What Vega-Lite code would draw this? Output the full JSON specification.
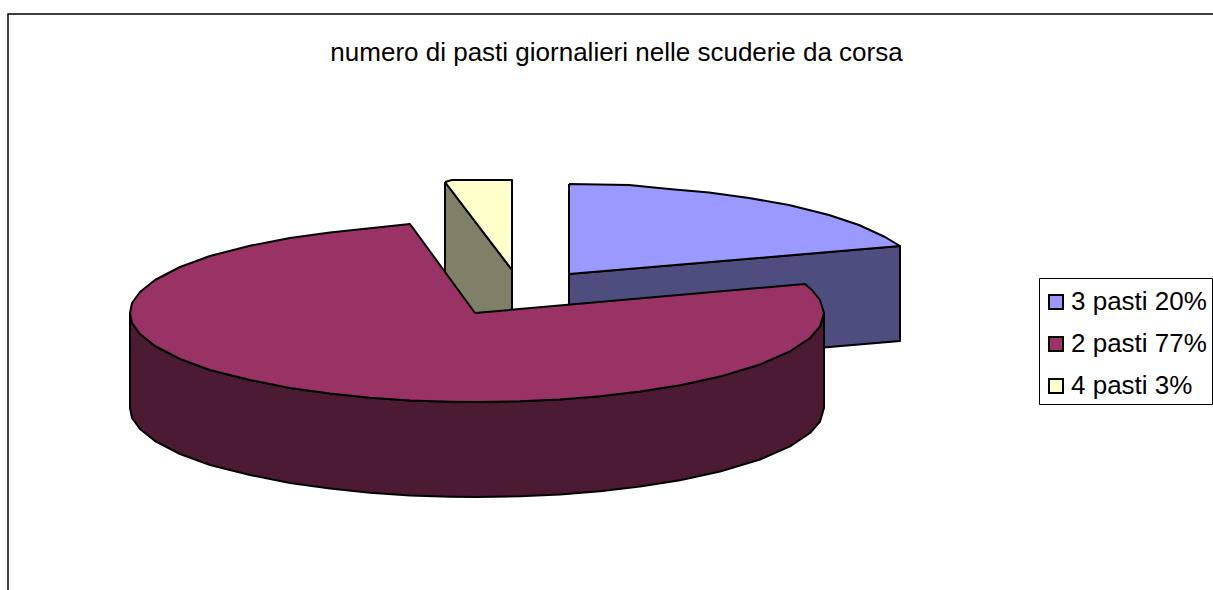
{
"$schema":"https://vega.github.io/schema/vega-lite/v6.json",
"width":1205,"height":576,
"autosize":"none",
"padding":{"left":8,"top":14,"right":0,"bottom":0},
"background":"white",
"view":{"stroke":null},
"title":{"text":"numero di pasti giornalieri nelle scuderie da corsa","font":"Liberation Sans","fontSize":26,"fontWeight":"normal","color":"black","anchor":"middle","frame":"group","offset":-55,"dx":6},
"data":{"values":[
{"part":"frame","seq":1,"x":8,"y":590},{"part":"frame","seq":2,"x":8,"y":14},{"part":"frame","seq":3,"x":1213,"y":14},
{"part":"blue_side","seq":1,"x":569,"y":274},{"part":"blue_side","seq":2,"x":900,"y":246},{"part":"blue_side","seq":3,"x":900,"y":341},{"part":"blue_side","seq":4,"x":569,"y":369},{"part":"blue_side","seq":5,"x":569,"y":274},
{"part":"olive_side","seq":1,"x":445,"y":182},{"part":"olive_side","seq":2,"x":512,"y":270},{"part":"olive_side","seq":3,"x":512,"y":365},{"part":"olive_side","seq":4,"x":445,"y":277},{"part":"olive_side","seq":5,"x":445,"y":182},
{"part":"top_small","slice":"3 pasti 20%","seq":1,"x":569,"y":184},{"part":"top_small","slice":"3 pasti 20%","seq":2,"x":629,"y":185},{"part":"top_small","slice":"3 pasti 20%","seq":3,"x":669,"y":189},{"part":"top_small","slice":"3 pasti 20%","seq":4,"x":709,"y":192.6},{"part":"top_small","slice":"3 pasti 20%","seq":5,"x":749,"y":198},{"part":"top_small","slice":"3 pasti 20%","seq":6,"x":789,"y":205},{"part":"top_small","slice":"3 pasti 20%","seq":7,"x":829,"y":215},{"part":"top_small","slice":"3 pasti 20%","seq":8,"x":859,"y":225},{"part":"top_small","slice":"3 pasti 20%","seq":9,"x":885,"y":237},{"part":"top_small","slice":"3 pasti 20%","seq":10,"x":900,"y":246},{"part":"top_small","slice":"3 pasti 20%","seq":11,"x":569,"y":274},{"part":"top_small","slice":"3 pasti 20%","seq":12,"x":569,"y":184},
{"part":"top_small","slice":"4 pasti 3%","seq":1,"x":445,"y":182},{"part":"top_small","slice":"4 pasti 3%","seq":2,"x":452,"y":180},{"part":"top_small","slice":"4 pasti 3%","seq":3,"x":512,"y":180},{"part":"top_small","slice":"4 pasti 3%","seq":4,"x":512,"y":270},{"part":"top_small","slice":"4 pasti 3%","seq":5,"x":445,"y":182},
{"part":"maroon_side","seq":1,"x":130,"y":313},{"part":"maroon_side","seq":2,"x":132,"y":323},{"part":"maroon_side","seq":3,"x":140,"y":334},{"part":"maroon_side","seq":4,"x":155,"y":346},{"part":"maroon_side","seq":5,"x":180,"y":359},{"part":"maroon_side","seq":6,"x":210,"y":370},{"part":"maroon_side","seq":7,"x":250,"y":380},{"part":"maroon_side","seq":8,"x":290,"y":388},{"part":"maroon_side","seq":9,"x":330,"y":393.6},{"part":"maroon_side","seq":10,"x":370,"y":397.7},{"part":"maroon_side","seq":11,"x":410,"y":400.4},{"part":"maroon_side","seq":12,"x":450,"y":401.7},{"part":"maroon_side","seq":13,"x":477,"y":402},{"part":"maroon_side","seq":14,"x":520,"y":401.3},{"part":"maroon_side","seq":15,"x":560,"y":399.4},{"part":"maroon_side","seq":16,"x":600,"y":396.2},{"part":"maroon_side","seq":17,"x":640,"y":391.6},{"part":"maroon_side","seq":18,"x":680,"y":385.2},{"part":"maroon_side","seq":19,"x":720,"y":376.6},{"part":"maroon_side","seq":20,"x":760,"y":364.5},{"part":"maroon_side","seq":21,"x":790,"y":351.4},{"part":"maroon_side","seq":22,"x":810,"y":338},{"part":"maroon_side","seq":23,"x":820,"y":326.5},{"part":"maroon_side","seq":24,"x":824,"y":313},
{"part":"maroon_side","seq":25,"x":824,"y":408},{"part":"maroon_side","seq":26,"x":820,"y":421.5},{"part":"maroon_side","seq":27,"x":810,"y":433},{"part":"maroon_side","seq":28,"x":790,"y":446.4},{"part":"maroon_side","seq":29,"x":760,"y":459.5},{"part":"maroon_side","seq":30,"x":720,"y":471.6},{"part":"maroon_side","seq":31,"x":680,"y":480.2},{"part":"maroon_side","seq":32,"x":640,"y":486.6},{"part":"maroon_side","seq":33,"x":600,"y":491.2},{"part":"maroon_side","seq":34,"x":560,"y":494.4},{"part":"maroon_side","seq":35,"x":520,"y":496.3},{"part":"maroon_side","seq":36,"x":477,"y":497},{"part":"maroon_side","seq":37,"x":450,"y":496.7},{"part":"maroon_side","seq":38,"x":410,"y":495.4},{"part":"maroon_side","seq":39,"x":370,"y":492.7},{"part":"maroon_side","seq":40,"x":330,"y":488.6},{"part":"maroon_side","seq":41,"x":290,"y":483},{"part":"maroon_side","seq":42,"x":250,"y":475},{"part":"maroon_side","seq":43,"x":210,"y":465},{"part":"maroon_side","seq":44,"x":180,"y":454},{"part":"maroon_side","seq":45,"x":155,"y":441},{"part":"maroon_side","seq":46,"x":140,"y":429},{"part":"maroon_side","seq":47,"x":132,"y":418},{"part":"maroon_side","seq":48,"x":130,"y":408},{"part":"maroon_side","seq":49,"x":130,"y":313},
{"part":"top_big","slice":"2 pasti 77%","seq":1,"x":475,"y":313},{"part":"top_big","slice":"2 pasti 77%","seq":2,"x":410,"y":224},{"part":"top_big","slice":"2 pasti 77%","seq":3,"x":370,"y":228.3},{"part":"top_big","slice":"2 pasti 77%","seq":4,"x":330,"y":232.4},{"part":"top_big","slice":"2 pasti 77%","seq":5,"x":290,"y":238},{"part":"top_big","slice":"2 pasti 77%","seq":6,"x":250,"y":245.7},{"part":"top_big","slice":"2 pasti 77%","seq":7,"x":210,"y":256},{"part":"top_big","slice":"2 pasti 77%","seq":8,"x":180,"y":267},{"part":"top_big","slice":"2 pasti 77%","seq":9,"x":155,"y":280},{"part":"top_big","slice":"2 pasti 77%","seq":10,"x":140,"y":292},{"part":"top_big","slice":"2 pasti 77%","seq":11,"x":132,"y":303},{"part":"top_big","slice":"2 pasti 77%","seq":12,"x":130,"y":313},{"part":"top_big","slice":"2 pasti 77%","seq":13,"x":132,"y":323},{"part":"top_big","slice":"2 pasti 77%","seq":14,"x":140,"y":334},{"part":"top_big","slice":"2 pasti 77%","seq":15,"x":155,"y":346},{"part":"top_big","slice":"2 pasti 77%","seq":16,"x":180,"y":359},{"part":"top_big","slice":"2 pasti 77%","seq":17,"x":210,"y":370},{"part":"top_big","slice":"2 pasti 77%","seq":18,"x":250,"y":380},{"part":"top_big","slice":"2 pasti 77%","seq":19,"x":290,"y":388},{"part":"top_big","slice":"2 pasti 77%","seq":20,"x":330,"y":393.6},{"part":"top_big","slice":"2 pasti 77%","seq":21,"x":370,"y":397.7},{"part":"top_big","slice":"2 pasti 77%","seq":22,"x":410,"y":400.4},{"part":"top_big","slice":"2 pasti 77%","seq":23,"x":450,"y":401.7},{"part":"top_big","slice":"2 pasti 77%","seq":24,"x":477,"y":402},{"part":"top_big","slice":"2 pasti 77%","seq":25,"x":520,"y":401.3},{"part":"top_big","slice":"2 pasti 77%","seq":26,"x":560,"y":399.4},{"part":"top_big","slice":"2 pasti 77%","seq":27,"x":600,"y":396.2},{"part":"top_big","slice":"2 pasti 77%","seq":28,"x":640,"y":391.6},{"part":"top_big","slice":"2 pasti 77%","seq":29,"x":680,"y":385.2},{"part":"top_big","slice":"2 pasti 77%","seq":30,"x":720,"y":376.6},{"part":"top_big","slice":"2 pasti 77%","seq":31,"x":760,"y":364.5},{"part":"top_big","slice":"2 pasti 77%","seq":32,"x":790,"y":351.4},{"part":"top_big","slice":"2 pasti 77%","seq":33,"x":810,"y":338},{"part":"top_big","slice":"2 pasti 77%","seq":34,"x":820,"y":326.5},{"part":"top_big","slice":"2 pasti 77%","seq":35,"x":824,"y":313},{"part":"top_big","slice":"2 pasti 77%","seq":36,"x":820,"y":300},{"part":"top_big","slice":"2 pasti 77%","seq":37,"x":812,"y":290},{"part":"top_big","slice":"2 pasti 77%","seq":38,"x":805,"y":284},{"part":"top_big","slice":"2 pasti 77%","seq":39,"x":475,"y":313}
]},
"encoding":{
"x":{"field":"x","type":"quantitative","scale":{"domain":[8,1213]},"axis":null},
"y":{"field":"y","type":"quantitative","scale":{"domain":[590,14]},"axis":null},
"order":{"field":"seq","type":"quantitative"}
},
"layer":[
{"transform":[{"filter":"datum.part==='frame'"}],"mark":{"type":"line","stroke":"black","strokeWidth":1.5}},
{"transform":[{"filter":"datum.part==='blue_side'"}],"mark":{"type":"line","fill":"#4D4D80","stroke":"black","strokeWidth":2,"strokeJoin":"round"}},
{"transform":[{"filter":"datum.part==='olive_side'"}],"mark":{"type":"line","fill":"#808066","stroke":"black","strokeWidth":2,"strokeJoin":"round"}},
{"transform":[{"filter":"datum.part==='top_small'"}],"mark":{"type":"line","stroke":"black","strokeWidth":2,"strokeJoin":"round"},
 "encoding":{"fill":{"field":"slice","type":"nominal"}}},
{"transform":[{"filter":"datum.part==='maroon_side'"}],"mark":{"type":"line","fill":"#4D1A33","stroke":"black","strokeWidth":2,"strokeJoin":"round"}},
{"transform":[{"filter":"datum.part==='top_big'"}],"mark":{"type":"line","stroke":"black","strokeWidth":2,"strokeJoin":"round"},
 "encoding":{"fill":{"field":"slice","type":"nominal","scale":{"domain":["3 pasti 20%","2 pasti 77%","4 pasti 3%"],"range":["#9999FF","#993366","#FFFFCC"]},
  "legend":{"title":"                                                                                                                        ","titleFontSize":6,"titlePadding":0,"titleLimit":400,"orient":"none","legendX":1031,"legendY":264,"fillColor":"white","strokeColor":"black","padding":5,"symbolType":"square","symbolSize":196,"symbolOffset":-1,"symbolStrokeColor":"black","symbolStrokeWidth":2,"symbolOpacity":1,"labelFont":"Liberation Sans","labelFontSize":26,"labelColor":"black","labelOffset":2,"rowPadding":16,"labelLimit":300}}}}
]
}
